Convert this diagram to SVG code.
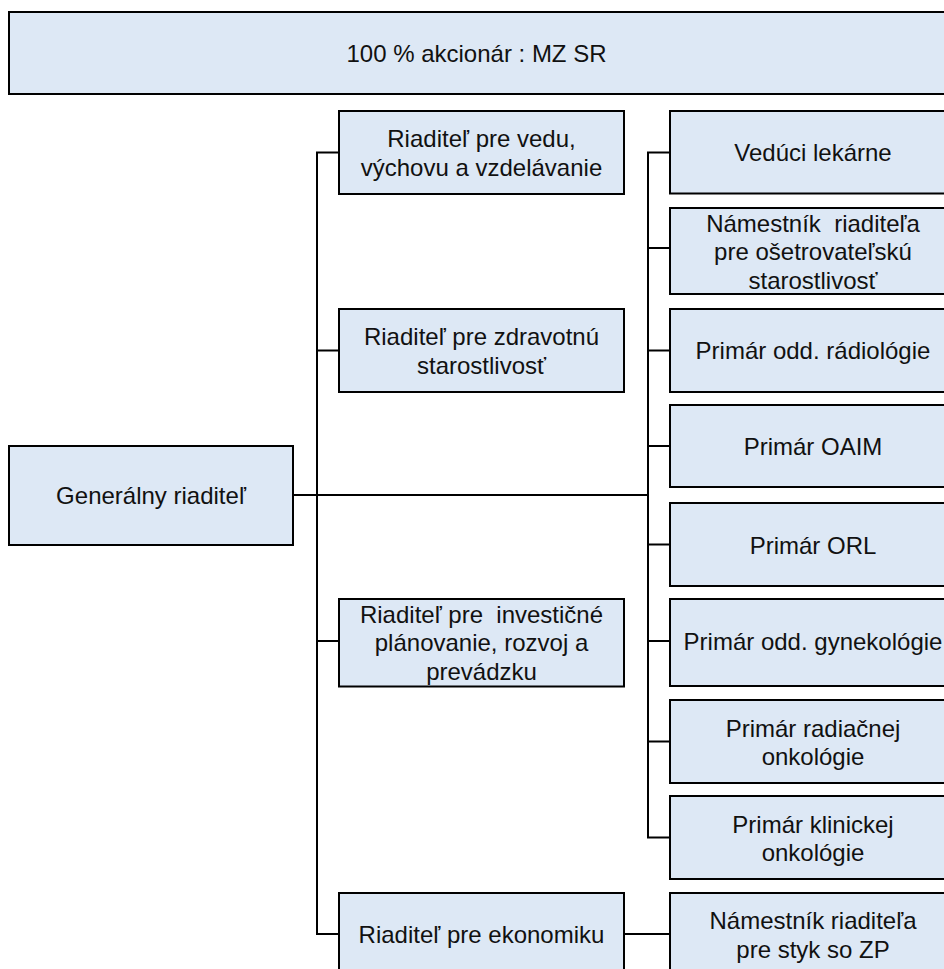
<svg xmlns="http://www.w3.org/2000/svg" width="944" height="969" viewBox="0 0 944 969">
<style>
.box{fill:#dde8f5;stroke:#000;stroke-width:2}
.t{font-family:"Liberation Sans",Arial,sans-serif;font-size:24px;fill:#111;text-anchor:middle;white-space:pre}
.c{fill:none;stroke:#000;stroke-width:2}
</style>
<rect width="944" height="969" fill="#fff"/>
<g id="connectors" class="c">
<path d="M339 152.5H317V934H339"/>
<path d="M317 350.5H339"/>
<path d="M317 641H339"/>
<path d="M293 495H648"/>
<path d="M670 152.5H648V837.5H670"/>
<path d="M648 248H670"/>
<path d="M648 350.5H670"/>
<path d="M648 446H670"/>
<path d="M648 544.5H670"/>
<path d="M648 641H670"/>
<path d="M648 741.5H670"/>
<path d="M624 934H670"/>
</g>
<g id="n_akcionar"><rect class="box" x="9" y="12" width="960" height="82"/><text class="t" x="476.5" y="62">100 % akcionár : MZ SR</text></g>
<g id="n_generalny"><rect class="box" x="9" y="446" width="284" height="99"/><text class="t" x="151" y="504">Generálny riaditeľ</text></g>
<g id="n_veda"><rect class="box" x="339" y="111" width="285" height="83"/><text class="t" x="481.5" y="147">Riaditeľ pre vedu,</text><text class="t" x="481.5" y="175.5">výchovu a vzdelávanie</text></g>
<g id="n_zdrav"><rect class="box" x="339" y="309" width="285" height="83"/><text class="t" x="481.5" y="345">Riaditeľ pre zdravotnú</text><text class="t" x="481.5" y="373.5">starostlivosť</text></g>
<g id="n_invest"><rect class="box" x="339" y="599" width="285" height="87.5"/><text class="t" x="481.5" y="622.5">Riaditeľ pre  investičné</text><text class="t" x="481.5" y="651">plánovanie, rozvoj a</text><text class="t" x="481.5" y="679.5">prevádzku</text></g>
<g id="n_ekon"><rect class="box" x="339" y="893" width="285" height="90"/><text class="t" x="481.5" y="943">Riaditeľ pre ekonomiku</text></g>
<g id="n_lekaren"><rect class="box" x="670" y="111" width="290" height="82.5"/><text class="t" x="813" y="161">Vedúci lekárne</text></g>
<g id="n_osetr"><rect class="box" x="670" y="208" width="290" height="86"/><text class="t" x="813" y="231.5">Námestník  riaditeľa</text><text class="t" x="813" y="260">pre ošetrovateľskú</text><text class="t" x="813" y="288.5">starostlivosť</text></g>
<g id="n_radiol"><rect class="box" x="670" y="309" width="290" height="83"/><text class="t" x="813" y="359">Primár odd. rádiológie</text></g>
<g id="n_oaim"><rect class="box" x="670" y="405" width="290" height="82"/><text class="t" x="813" y="455">Primár OAIM</text></g>
<g id="n_orl"><rect class="box" x="670" y="503" width="290" height="83"/><text class="t" x="813" y="553.5">Primár ORL</text></g>
<g id="n_gyn"><rect class="box" x="670" y="599" width="290" height="87"/><text class="t" x="813" y="650">Primár odd. gynekológie</text></g>
<g id="n_radiac"><rect class="box" x="670" y="700" width="290" height="83"/><text class="t" x="813" y="736.5">Primár radiačnej</text><text class="t" x="813" y="765">onkológie</text></g>
<g id="n_klin"><rect class="box" x="670" y="796" width="290" height="83"/><text class="t" x="813" y="832.5">Primár klinickej</text><text class="t" x="813" y="861">onkológie</text></g>
<g id="n_zp"><rect class="box" x="670" y="893" width="290" height="90"/><text class="t" x="813" y="929">Námestník riaditeľa</text><text class="t" x="813" y="957.5">pre styk so ZP</text></g>
</svg>
